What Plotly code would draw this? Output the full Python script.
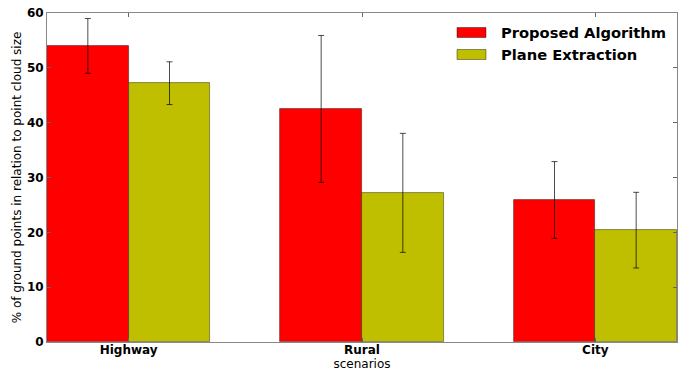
import plotly.graph_objects as go

categories = ["Highway", "Rural", "City"]
series_names = ["Proposed Algorithm", "Plane Extraction"]
proposed = [54.0, 42.5, 25.9]
proposed_err = [5.0, 13.4, 7.0]
plane = [47.2, 27.2, 20.4]
plane_err = [3.9, 10.85, 6.9]
colors = ["#FF0000", "#BFBF00"]

width = 0.35
ind = list(range(len(categories)))

fig = go.Figure()
fig.add_trace(go.Bar(
    x=[i + width / 2 for i in ind], y=proposed, width=width,
    name=series_names[0],
    marker=dict(color=colors[0], line=dict(color="rgba(0,0,0,0.5)", width=0.8)),
    error_y=dict(type="data", array=proposed_err, color="rgba(0,0,0,0.7)", thickness=1, width=3),
))
fig.add_trace(go.Bar(
    x=[i + 1.5 * width for i in ind], y=plane, width=width,
    name=series_names[1],
    marker=dict(color=colors[1], line=dict(color="rgba(0,0,0,0.5)", width=0.8)),
    error_y=dict(type="data", array=plane_err, color="rgba(0,0,0,0.7)", thickness=1, width=3),
))

# matplotlib-style legend: wide patches + bold labels (paper coordinates)
plot_l, plot_r, plot_t, plot_b = 47, 677, 13, 342
def px(x):
    return (x - plot_l) / (plot_r - plot_l)
def py(y):
    return (plot_b - y) / (plot_b - plot_t)

legend_rows = [(27.5, 37.5), (49.5, 59.5)]
for name, col, (y0, y1) in zip(series_names, colors, legend_rows):
    fig.add_shape(type="rect", xref="paper", yref="paper",
                  x0=px(457), x1=px(486), y0=py(y1), y1=py(y0),
                  fillcolor=col, line=dict(color="rgba(0,0,0,0.5)", width=0.8))
    fig.add_annotation(xref="paper", yref="paper", x=px(499), y=py((y0 + y1) / 2),
                       text=name, showarrow=False, xanchor="left", yanchor="middle",
                       font=dict(family="DejaVu Sans", size=14.7, weight="bold", color="black"))

fig.update_layout(
    width=679, height=364,
    margin=dict(l=39, r=10, t=5, b=30),
    plot_bgcolor="white", paper_bgcolor="white",
    barmode="overlay", bargap=0,
    font=dict(family="DejaVu Sans", color="black", size=12),
    showlegend=False,
)
fig.update_xaxes(
    range=[0, 2.7], automargin=False,
    tickmode="array", tickvals=[i + width for i in ind], ticktext=categories,
    tickfont=dict(family="DejaVu Sans", size=12, weight="bold"),
    ticks="inside", ticklen=4, tickcolor="#666", mirror="ticks",
    showline=True, linecolor="#888", linewidth=1,
    showgrid=False, zeroline=False, ticklabelstandoff=-3,
    title=dict(text="scenarios", font=dict(size=12), standoff=0),
)
fig.update_yaxes(
    range=[0, 60], dtick=10, automargin=False,
    tickfont=dict(family="DejaVu Sans", size=12, weight="bold"),
    ticks="inside", ticklen=4, tickcolor="#666", mirror="ticks",
    showline=True, linecolor="#888", linewidth=1,
    showgrid=False, zeroline=False, ticklabeloverflow="allow",
    title=dict(text="% of ground points in relation to point cloud size", font=dict(size=12), standoff=2),
)

fig.write_html("out.html")
